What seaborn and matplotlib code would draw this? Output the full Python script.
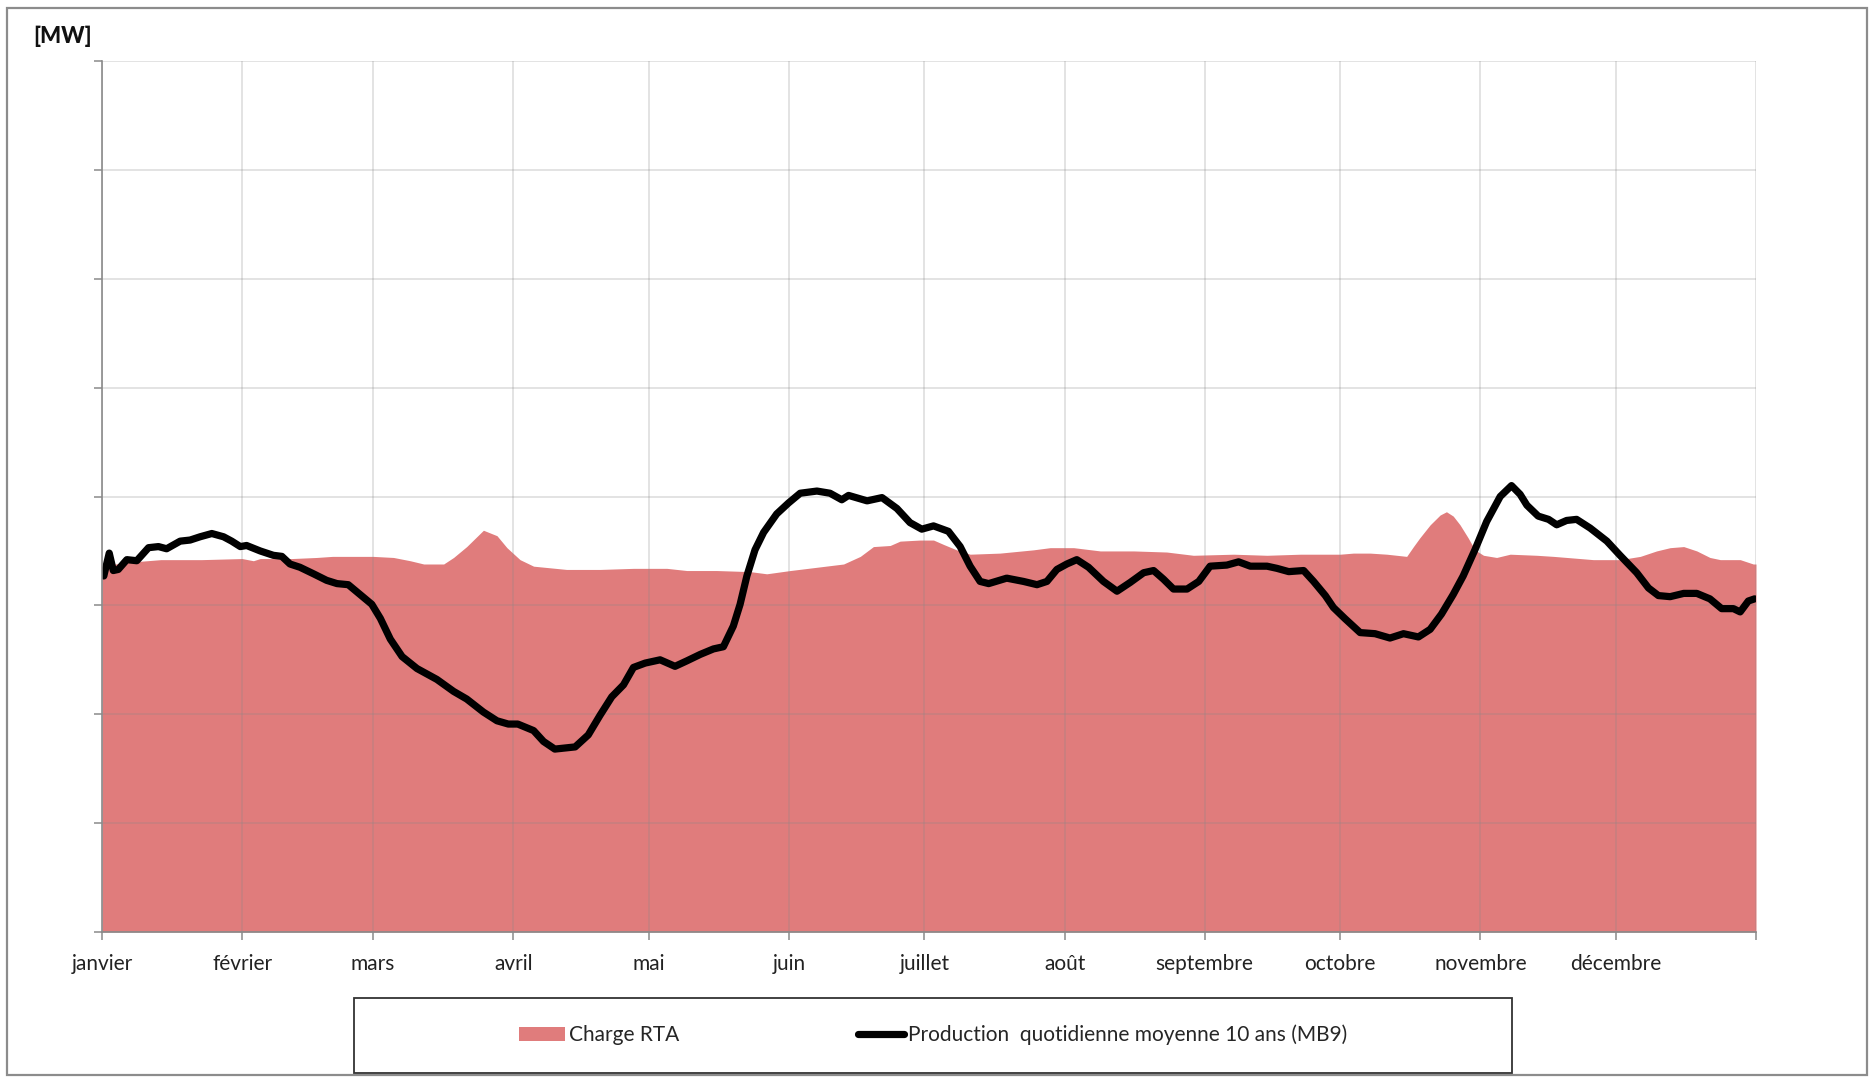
import numpy as np
import pandas as pd
import seaborn as sns
import matplotlib
matplotlib.use("Agg")
import matplotlib.pyplot as plt
from matplotlib.patches import Patch, Rectangle
from matplotlib.lines import Line2D

# ---------------- data ----------------
month_labels = ["janvier", "février", "mars", "avril", "mai", "juin", "juillet",
                "août", "septembre", "octobre", "novembre", "décembre"]
month_starts = [0, 31, 60, 91, 121, 152, 182, 213, 244, 274, 305, 335]
year_end = 366

charge_days = [0, 3, 7, 13, 22, 31, 33.5, 35, 42, 47.5, 51, 60, 64.5, 68.2, 71.2, 75.6,
               77.8, 80.7, 84.4, 87.4, 89.6, 92.5, 95.5, 102.8, 110.2, 117.6, 125,
               129.4, 136, 143.4, 147.1, 152.3, 158.2, 164.1, 167.8, 170.7, 174.4,
               176.6, 181, 184, 186.2, 189.1, 192.1, 198.7, 206.1, 209.8, 215, 220.9,
               228.3, 235.6, 241.5, 250.4, 257.8, 265.2, 274, 276.9, 280.6, 284.3,
               288.7, 290.2, 291.6, 293.9, 296.1, 297.5, 299, 300.5, 302.3, 303.8,
               305.7, 308.6, 311.6, 317.5, 321.2, 327.1, 330, 335.9, 340.4, 344, 347,
               350, 352.9, 355.8, 358.1, 362.5, 365.4, 366]
charge_values = [3.36, 3.38, 3.40, 3.42, 3.42, 3.43, 3.41, 3.43, 3.43, 3.44, 3.45, 3.45,
                 3.44, 3.41, 3.38, 3.38, 3.44, 3.54, 3.69, 3.64, 3.53, 3.42, 3.36, 3.33,
                 3.33, 3.34, 3.34, 3.32, 3.32, 3.31, 3.29, 3.32, 3.35, 3.38, 3.45, 3.54,
                 3.55, 3.59, 3.60, 3.60, 3.56, 3.51, 3.47, 3.48, 3.51, 3.53, 3.53, 3.50,
                 3.50, 3.49, 3.46, 3.47, 3.46, 3.47, 3.47, 3.48, 3.48, 3.47, 3.45, 3.54,
                 3.62, 3.74, 3.83, 3.86, 3.82, 3.74, 3.62, 3.51, 3.46, 3.44, 3.47, 3.46,
                 3.45, 3.43, 3.42, 3.42, 3.45, 3.50, 3.53, 3.54, 3.50, 3.44, 3.42, 3.42,
                 3.38, 3.38]

prod_days = [0.4, 1.6, 2.5, 3.6, 5.5, 7.7, 10.3, 12.5, 14.3, 17.3, 19.5, 21.7, 24.3,
             26.9, 28.7, 30.6, 32.0, 35.0, 37.9, 39.8, 41.6, 43.8, 46.8, 49.7, 52.0,
             54.5, 57.1, 59.7, 61.6, 63.8, 66.4, 69.7, 74.1, 77.8, 80.7, 84.4, 87.4,
             89.9, 92.0, 95.5, 97.7, 100.2, 104.7, 107.6, 110.2, 112.8, 115.4, 117.6,
             120.2, 123.5, 126.8, 129.4, 132.4, 135.3, 137.5, 139.7, 141.2, 142.7,
             144.5, 146.4, 149.3, 151.9, 154.5, 158.2, 161.1, 163.7, 165.2, 169.3,
             172.6, 175.9, 178.8, 181.4, 184.0, 187.3, 189.9, 192.1, 194.3, 196.2,
             200.2, 203.9, 206.9, 209.1, 211.3, 213.5, 215.7, 218.3, 221.6, 224.6,
             227.5, 230.5, 232.7, 234.9, 237.1, 240.1, 242.7, 245.2, 248.9, 251.5,
             254.1, 257.8, 260.0, 262.6, 265.9, 268.1, 270.7, 272.5, 275.0, 278.4,
             281.7, 285.0, 288.0, 291.3, 293.9, 296.4, 299.0, 301.2, 303.8, 306.4,
             309.4, 311.9, 313.8, 315.3, 317.8, 320.1, 321.9, 324.1, 326.3, 329.3,
             333.0, 335.9, 339.6, 342.2, 344.4, 347.0, 350.0, 352.9, 355.8, 358.4,
             361.0, 362.5, 364.3, 365.7]
prod_values = [3.27, 3.48, 3.32, 3.33, 3.42, 3.41, 3.53, 3.54, 3.52, 3.59, 3.60, 3.63,
               3.66, 3.63, 3.59, 3.54, 3.55, 3.50, 3.46, 3.45, 3.38, 3.35, 3.29, 3.23,
               3.20, 3.19, 3.10, 3.01, 2.88, 2.69, 2.53, 2.42, 2.32, 2.21, 2.14, 2.02,
               1.94, 1.91, 1.91, 1.85, 1.75, 1.68, 1.70, 1.81, 1.99, 2.16, 2.27, 2.43,
               2.47, 2.50, 2.44, 2.49, 2.55, 2.60, 2.62, 2.81, 3.01, 3.27, 3.51, 3.67,
               3.84, 3.94, 4.03, 4.05, 4.03, 3.97, 4.01, 3.96, 3.99, 3.89, 3.76, 3.70,
               3.73, 3.68, 3.54, 3.36, 3.22, 3.20, 3.25, 3.22, 3.19, 3.22, 3.33, 3.38,
               3.42, 3.35, 3.22, 3.13, 3.21, 3.30, 3.32, 3.24, 3.15, 3.15, 3.22, 3.36,
               3.37, 3.40, 3.36, 3.36, 3.34, 3.31, 3.32, 3.22, 3.09, 2.98, 2.88, 2.75,
               2.74, 2.70, 2.74, 2.71, 2.78, 2.92, 3.10, 3.27, 3.51, 3.77, 4.00, 4.10,
               4.02, 3.92, 3.82, 3.79, 3.74, 3.78, 3.79, 3.71, 3.59, 3.46, 3.30, 3.16,
               3.09, 3.08, 3.11, 3.11, 3.06, 2.97, 2.97, 2.94, 3.04, 3.06]

y_ticks = [0, 1, 2, 3, 4, 5, 6, 7, 8]
unit_label = "[MW]"
charge_label = "Charge RTA"
prod_label = "Production  quotidienne moyenne 10 ans (MB9)"

# ---------------- style ----------------
sns.set_theme(style="white")
plt.rcParams["font.family"] = ["Lato", "DejaVu Sans"]

W, H, DPI = 1871, 1077, 100
fig = plt.figure(figsize=(W / DPI, H / DPI), dpi=DPI)
fig.patch.set_facecolor("white")

ax = fig.add_axes([102 / W, 1 - 932 / H, (1756 - 102) / W, (932 - 61) / H])

fill_color = "#E07C7C"
charge_df = pd.DataFrame({"jour": charge_days, "valeur": charge_values})
prod_df = pd.DataFrame({"jour": prod_days, "valeur": prod_values})

ax.fill_between(charge_df["jour"], 0, charge_df["valeur"], color=fill_color,
                linewidth=0, zorder=1)
sns.lineplot(data=prod_df, x="jour", y="valeur", color="black", linewidth=5.2,
             ax=ax, zorder=4, solid_capstyle="round", solid_joinstyle="round")

ax.set_xlim(0, year_end)
ax.set_ylim(0, 8)
ax.set_xticks(month_starts + [year_end])
ax.set_xticklabels(month_labels + [""], fontsize=15, color="#222222")
ax.set_yticks(y_ticks)
ax.set_yticklabels([])
ax.set_xlabel("")
ax.set_ylabel("")

ax.grid(True, color="#888888", alpha=0.3, linewidth=1.1, zorder=3)
ax.set_axisbelow(False)
for s in ["top", "right"]:
    ax.spines[s].set_visible(False)
for s in ["left", "bottom"]:
    ax.spines[s].set_color("#8a8a8a")
    ax.spines[s].set_linewidth(1.2)
    ax.spines[s].set_zorder(5)
ax.tick_params(axis="both", which="major", direction="out", length=6, width=1.1,
               color="#8a8a8a", bottom=True, left=True)
ax.tick_params(axis="x", pad=10)

# unit label
fig.text(33 / W, 1 - 36 / H, unit_label, fontsize=16, fontweight="black",
         ha="left", va="center", color="#111111")

# outer frame
fig.patches.append(Rectangle((7 / W, 0.002), (1867 - 7) / W, 1 - 8 / H - 0.002,
                             transform=fig.transFigure, fill=False,
                             edgecolor="#8c8c8c", linewidth=1.6))

# legend box
fig.patches.append(Rectangle((354 / W, 1 - 1073 / H), (1512 - 354) / W, (1073 - 998) / H,
                             transform=fig.transFigure, fill=False,
                             edgecolor="#333333", linewidth=1.3))
handles = [Patch(facecolor=fill_color, edgecolor="none"),
           Line2D([0], [0], color="black", linewidth=5.2, solid_capstyle="round")]
fig.legend(handles, [charge_label, prod_label], loc="center",
           bbox_to_anchor=(933 / W, 1 - 1035 / H), ncol=2, frameon=False,
           fontsize=15, handlelength=2.2, handletextpad=0.2, columnspacing=8.6,
           handleheight=0.7)

fig.savefig("out.png", dpi=DPI)
